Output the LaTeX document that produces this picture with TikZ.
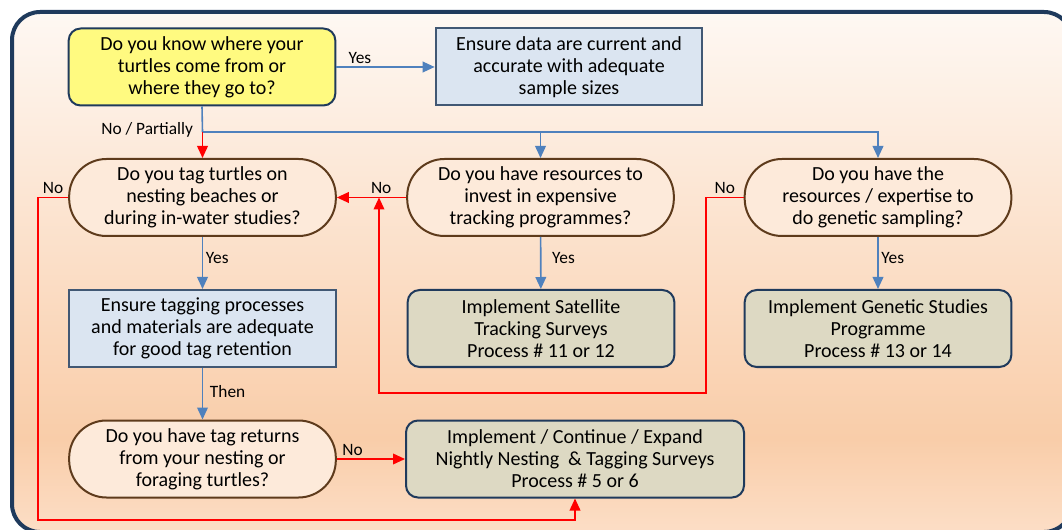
\documentclass[tikz,border=0pt]{standalone}
\usepackage{fontspec}
\setmainfont{Carlito}
\usetikzlibrary{arrows.meta}
\definecolor{framecol}{HTML}{1F3A5C}
\definecolor{bgtop}{HTML}{FEF8F3}
\definecolor{bgmid}{HTML}{F9CDA9}
\definecolor{bgbot}{HTML}{FCDEC6}
\definecolor{askfill}{HTML}{FDEADA}
\definecolor{askdraw}{HTML}{5E3B1C}
\definecolor{startfill}{HTML}{FFFA80}
\definecolor{notefill}{HTML}{DBE5F1}
\definecolor{actfill}{HTML}{DDD9C3}
\definecolor{flowblue}{HTML}{4F81BD}
\pgfdeclareverticalshading{bgshade}{100bp}{color(0bp)=(bgbot); color(25bp)=(bgbot); color(34bp)=(bgmid); color(75bp)=(bgtop); color(100bp)=(bgtop)}
\tikzset{
 basebox/.style={align=center,text=black,font=\fontsize{15}{16.5}\selectfont,minimum width=200pt,minimum height=57.75pt,inner sep=2pt,line width=1.5pt},
 startbox/.style={basebox,draw=framecol,fill=startfill,rounded corners=9pt},
 notebox/.style={basebox,draw=framecol!85,fill=notefill},
 askbox/.style={basebox,draw=askdraw,fill=askfill,rounded corners=28pt},
 actbox/.style={basebox,draw=framecol,fill=actfill,rounded corners=9pt},
 yesline/.style={draw=flowblue,line width=1.2pt},
 yesarrow/.style={yesline,-{Triangle[length=9pt,width=8pt]}},
 noarrow/.style={draw=red,line width=1.2pt,-{Triangle[length=9pt,width=8pt]}},
 lbl/.style={font=\fontsize{13}{14}\selectfont,text=black,inner sep=2pt}
}
\begin{document}
\begin{tikzpicture}[x=0.75pt,y=-0.75pt]
 \clip (0,0) rectangle (1062,530);
 \shadedraw[shading=bgshade,draw=framecol,line width=3pt,rounded corners=21pt] (12,12) rectangle (1072,532);
 \node[startbox] (q1) at (202,67) {Do you know where your\\turtles come from or\\where they go to?};
 \node[notebox] (data) at (569,67) {Ensure data are current and\\accurate with adequate\\sample sizes};
 \node[askbox] (q2) at (202.5,197.5) {Do you tag turtles on\\nesting beaches or\\during in-water studies?};
 \node[askbox] (q3) at (540.5,197.5) {Do you have resources to\\invest in expensive\\tracking programmes?};
 \node[askbox] (q4) at (878,197.5) {Do you have the\\resources / expertise to\\do genetic sampling?};
 \node[notebox] (tagging) at (202.5,328.5) {Ensure tagging processes\\and materials are adequate\\for good tag retention};
 \node[actbox] (sat) at (541,328.5) {Implement Satellite\\Tracking Surveys\\Process \# 11 or 12};
 \node[actbox] (gen) at (878,328.5) {Implement Genetic Studies\\Programme\\Process \# 13 or 14};
 \node[askbox] (q5) at (202.5,459) {Do you have tag returns\\from your nesting or\\foraging turtles?};
 \node[actbox,minimum width=253.5pt] (nightly) at (575,459) {Implement / Continue / Expand\\Nightly Nesting~ \& Tagging Surveys\\Process \# 5 or 6};
 \coordinate (split) at (202.5,132);
 \coordinate (loopa) at (706,393);
 \coordinate (loopb) at (379,393);
 \coordinate (loopc) at (38,520);
 \draw[yesarrow] (q1) -- node[lbl,above,pos=0.24] {Yes} (data);
 \draw[yesline] (q1.south) -- (split);
 \draw[yesarrow] (split) -| (q3.north);
 \draw[yesarrow] (split) -| (q4.north);
 \draw[noarrow] (split) -- (q2.north);
 \node[lbl,anchor=east,xshift=-5pt,yshift=1.5pt] (partly) at (split) {No / Partially};
 \draw[noarrow] (q3) -- node[lbl,above,pos=0.36] {No} (q2);
 \draw[noarrow] (q4.west) -| node[lbl,above,pos=0.25] {No} (loopa) -- (loopb) -- (loopb |- q2.east);
 \draw[noarrow] (q2.west) -| node[lbl,above,pos=0.25] {No} (loopc) -| (nightly.south);
 \draw[yesarrow] (q2) -- node[lbl,right,pos=0.4] {Yes} (tagging);
 \draw[yesarrow] (q3) -- node[lbl,right,pos=0.4,xshift=6pt] {Yes} (sat);
 \draw[yesarrow] (q4) -- node[lbl,right,pos=0.4] {Yes} (gen);
 \draw[yesarrow] (tagging) -- node[lbl,right,pos=0.45,xshift=3pt] {Then} (q5);
 \draw[noarrow] (q5) -- node[lbl,above,pos=0.23] {No} (nightly);
\end{tikzpicture}
\end{document}
